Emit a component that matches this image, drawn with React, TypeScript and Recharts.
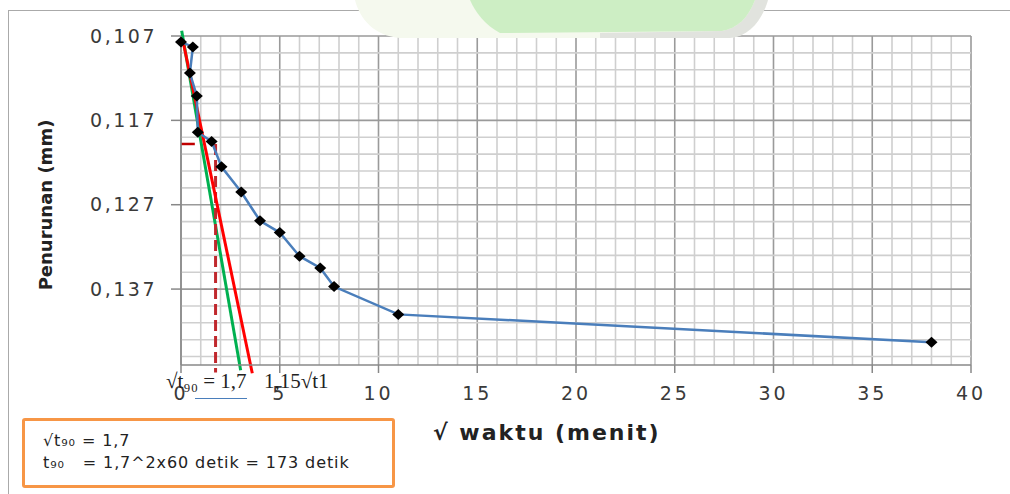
import { LineChart, Line, XAxis, YAxis, ReferenceLine } from "recharts";

// sqrt of elapsed time (menit) vs settlement (mm)
const akarWaktu = [0, 0.6, 0.45, 0.8, 0.85, 1.55, 2.05, 3.05, 4, 5, 6, 7.05, 7.75, 11, 38];
const penurunan = [
  0.1077, 0.1083, 0.1114, 0.1141, 0.1184, 0.1195, 0.1225, 0.1255, 0.1289, 0.1303, 0.1331, 0.1345,
  0.1367, 0.14, 0.1433,
];

const xTicks = [0, 5, 10, 15, 20, 25, 30, 35, 40];
const yTicks = [0.107, 0.117, 0.127, 0.137];
const minorX = Array.from({ length: 41 }, (_, i) => i);
const minorY = Array.from({ length: 20 }, (_, i) => +(0.107 + i * 0.002).toFixed(3));

// construction lines (Taylor method)
const garisHijau = [
  { x: 0.035, y: 0.10637 },
  { x: 3.02, y: 0.14662 },
];
const garisMerah = [
  { x: 0.09, y: 0.10747 },
  { x: 3.61, y: 0.14698 },
];
const akarT90 = 1.75;
const penurunanT90 = 0.1198;

const data = akarWaktu.map((x, i) => ({ x, y: penurunan[i] }));

const Diamond = (props: any) => {
  const { cx, cy } = props;
  if (cx == null || cy == null) return null;
  return (
    <polygon
      key={`d-${cx}-${cy}`}
      points={`${cx},${cy - 5.5} ${cx + 6},${cy} ${cx},${cy + 5.5} ${cx - 6},${cy}`}
      fill="#000"
    />
  );
};

const koma = (v: number) => v.toFixed(3).replace(".", ",");

export default function App() {
  return (
    <div
      style={{
        position: "fixed",
        left: 0,
        top: 0,
        width: 1010,
        height: 494,
        background: "#fff",
        fontFamily: "'DejaVu Sans', sans-serif",
        overflow: "hidden",
      }}
    >
      <div style={{ position: "absolute", left: 0, top: 0 }}>
        <LineChart
          width={1010}
          height={494}
          data={data}
          margin={{ top: 36, right: 39, left: 81, bottom: 99 }}
        >
          <XAxis
            type="number"
            dataKey="x"
            domain={[0, 40]}
            ticks={xTicks}
            interval={0}
            height={30}
            axisLine={{ stroke: "#888", strokeWidth: 1.5 }}
            tickLine={{ stroke: "#888", strokeWidth: 1.5 }}
            tickSize={8}
            tickMargin={14}
            tick={{
              fill: "#3a3a3a",
              fontSize: 19,
              letterSpacing: 3,
              fontFamily: "'DejaVu Sans', sans-serif",
            }}
          />
          <YAxis
            type="number"
            dataKey="y"
            reversed
            domain={[0.107, 0.146]}
            ticks={yTicks}
            interval={0}
            width={100}
            allowDataOverflow
            tickFormatter={koma}
            axisLine={{ stroke: "#888", strokeWidth: 1.5 }}
            tickLine={{ stroke: "#888", strokeWidth: 1.5 }}
            tickSize={10}
            tickMargin={14}
            tick={{
              fill: "#3a3a3a",
              fontSize: 19,
              letterSpacing: 2.5,
              fontFamily: "'DejaVu Sans', sans-serif",
            }}
          />
          {minorX.map((v) => (
            <ReferenceLine
              key={`vx${v}`}
              x={v}
              stroke={v % 5 === 0 ? "#9a9a9a" : "#cfcfcf"}
              strokeWidth={1.6}
            />
          ))}
          {minorY.map((v, i) => (
            <ReferenceLine
              key={`hy${v}`}
              y={v}
              stroke={i % 5 === 0 ? "#9a9a9a" : "#cfcfcf"}
              strokeWidth={1.6}
            />
          ))}
          <ReferenceLine
            segment={garisHijau}
            stroke="#00b050"
            strokeWidth={3}
            ifOverflow="visible"
          />
          <ReferenceLine
            segment={[
              { x: 0, y: penurunanT90 },
              { x: 0.7, y: penurunanT90 },
            ]}
            stroke="#c00000"
            strokeWidth={2.5}
            ifOverflow="visible"
          />
          <ReferenceLine
            segment={[
              { x: akarT90, y: penurunanT90 },
              { x: akarT90, y: 0.1469 },
            ]}
            stroke="#c0282d"
            strokeWidth={3}
            strokeDasharray="11 5"
            ifOverflow="visible"
          />
          <ReferenceLine
            segment={garisMerah}
            stroke="#ff0000"
            strokeWidth={3}
            ifOverflow="visible"
          />
          <Line
            type="linear"
            dataKey="y"
            stroke="#4a7ebb"
            strokeWidth={2.5}
            dot={Diamond}
            activeDot={false}
            isAnimationActive={false}
          />
        </LineChart>
      </div>

      {/* frame and watermark remnant */}
      <div
        style={{
          position: "absolute",
          left: 8,
          top: 10,
          width: 1010,
          height: 494,
          borderTop: "1.5px solid #aaa",
          borderLeft: "1.5px solid #aaa",
          pointerEvents: "none",
        }}
      />
      <svg width={1010} height={60} style={{ position: "absolute", left: 0, top: 0 }}>
        <path
          d="M355,0 L768,0 C762,20 750,36 730,38 L400,38 C375,36 360,20 355,0 Z"
          fill="#f5f9ee"
        />
        <path
          d="M600,38 L730,38 C750,36 762,20 768,0 L755,0 C748,18 738,28 722,31 L600,33 Z"
          fill="#d4d4d4"
          opacity={0.6}
        />
        <path
          d="M470,0 L755,0 C748,18 738,28 722,31 L500,33 C485,25 475,12 470,0 Z"
          fill="#cdeec4"
        />
      </svg>

      <div
        style={{
          position: "absolute",
          left: 45,
          top: 205,
          transform: "translate(-50%, -50%) rotate(-90deg)",
          fontSize: 18,
          fontWeight: "bold",
          color: "#222",
          whiteSpace: "nowrap",
        }}
      >
        Penurunan (mm)
      </div>
      <div
        style={{
          position: "absolute",
          left: 433,
          top: 420,
          fontSize: 22,
          letterSpacing: 2,
          fontWeight: "bold",
          color: "#222",
          whiteSpace: "nowrap",
        }}
      >
        √ waktu (menit)
      </div>

      <div
        style={{
          position: "absolute",
          left: 166,
          top: 369,
          fontFamily: "'Liberation Serif', serif",
          fontSize: 21,
          color: "#222",
          whiteSpace: "nowrap",
        }}
      >
        √t₉₀ = 1,7
      </div>
      <div
        style={{
          position: "absolute",
          left: 264,
          top: 369,
          fontFamily: "'Liberation Serif', serif",
          fontSize: 21,
          color: "#222",
          whiteSpace: "nowrap",
        }}
      >
        1,15√t1
      </div>
      <div
        style={{
          position: "absolute",
          left: 195,
          top: 398,
          width: 52,
          borderTop: "1.5px solid #4a7ebb",
        }}
      />

      <div
        style={{
          position: "absolute",
          left: 22,
          top: 418,
          width: 349,
          height: 55,
          border: "3px solid #f79646",
          borderRadius: 3,
          fontSize: 16,
          letterSpacing: 0.9,
          color: "#222",
          lineHeight: "22px",
          padding: "9px 0 0 18px",
          boxSizing: "content-box",
          whiteSpace: "pre",
        }}
      >
        <div>√t₉₀ = 1,7</div>
        <div>{"t₉₀   = 1,7^2x60 detik = 173 detik"}</div>
      </div>
    </div>
  );
}
